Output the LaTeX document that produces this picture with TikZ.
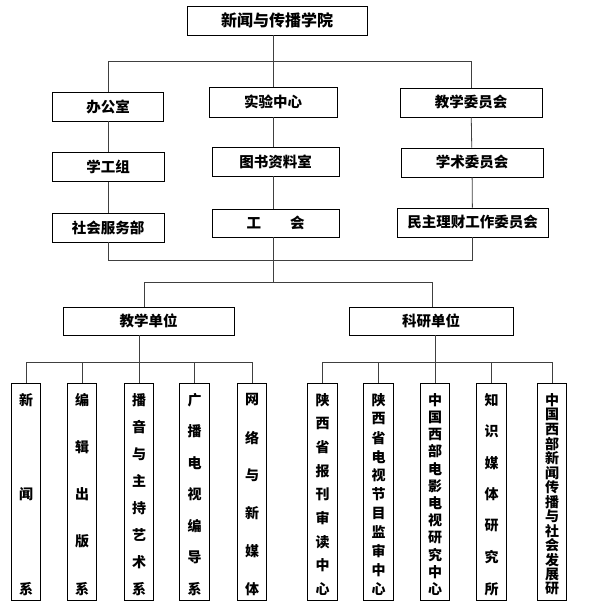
\documentclass[tikz,border=0pt]{standalone}
\usepackage{fontspec}
\usepackage{tikz}
\newfontfamily\cjk{Noto Sans CJK SC}

\tikzset{
  unit/.style={draw, line width=0.8pt, inner sep=0pt, minimum height=29pt,
    font={\cjk\bfseries\fontsize{14.5pt}{16pt}\selectfont}},
  colbox/.style={draw, line width=0.8pt, inner sep=0pt, minimum width=29.5pt, minimum height=217pt},
  coltext/.style={inner sep=0pt, font={\cjk\bfseries\fontsize{14pt}{14pt}\selectfont}},
  link/.style={draw=black!75, line width=0.8pt}
}

% box of one department, its characters spread down the box
\newcommand{\colunit}[4]{%
  \node[colbox] (#1) at (#2, 491.5) {};
  \foreach \ch [count=\k] in {#4}
    \node[coltext] (#1-\k) at (#2, {400+(\k-1)*189/(#3-1)}) {\ch};
}

\begin{document}
\begin{tikzpicture}[x=1pt, y=-1pt]
             \useasboundingbox (0,0) rectangle (606,610);

             \node[unit, minimum width=180pt, font={\cjk\bfseries\fontsize{16pt}{18pt}\selectfont}] (school) at (277, 20.5) {新闻与传播学院};

             \node[unit, minimum width=111pt] (office) at (108, 106.5) {办公室};
             \node[unit, minimum width=112pt] (staff) at (108, 167) {学工组};
             \node[unit, minimum width=112pt] (service) at (108, 227.5) {社会服务部};

             \node[unit, minimum width=128pt, minimum height=30pt] (lab) at (273, 102) {实验中心};
             \node[unit, minimum width=127pt] (library) at (275.5, 161.5) {图书资料室};
             \node[unit, minimum width=127pt, minimum height=28pt] (union) at (275.5, 223) {工\quad\quad 会};

             \node[unit, minimum width=142pt] (teachcom) at (471, 102.5) {教学委员会};
             \node[unit, minimum width=142pt] (academic) at (472, 162.5) {学术委员会};
             \node[unit, minimum width=151pt] (finance) at (472.5, 222.5) {民主理财工作委员会};

             \node[unit, minimum width=171pt, minimum height=28pt] (teaching) at (148.5, 321) {教学单位};
             \node[unit, minimum width=164pt, minimum height=28pt] (research) at (431, 321) {科研单位};

             \coordinate (topbus) at (0, 61);
             \coordinate (midbus) at (0, 260);
             \coordinate (unitbus) at (0, 282);
             \coordinate (colbus) at (0, 362);

             \colunit{journ}{26}{3}{新,闻,系}
             \colunit{edit}{82}{5}{编,辑,出,版,系}
             \colunit{announce}{139}{8}{播,音,与,主,持,艺,术,系}
             \colunit{broadcast}{194.5}{7}{广,播,电,视,编,导,系}
             \colunit{media}{252}{6}{网,络,与,新,媒,体}

             \colunit{press}{322.5}{9}{陕,西,省,报,刊,审,读,中,心}
             \colunit{tvmon}{378.5}{11}{陕,西,省,电,视,节,目,监,审,中,心}
             \colunit{film}{435}{12}{中,国,西,部,电,影,电,视,研,究,中,心}
             \colunit{knowledge}{491.5}{7}{知,识,媒,体,研,究,所}
             \colunit{west}{552}{14}{中,国,西,部,新,闻,传,播,与,社,会,发,展,研}

             \draw[link] (school.south -| lab.north) -- (lab.north);
             \draw[link] (office.north) |- (teachcom.north |- topbus) -- (teachcom.north);

             \draw[link] (office) -- (staff) -- (service);
             \draw[link] (lab.south) -- (lab.south |- library.north);
             \draw[link] (library.south -| lab.south) -- (union.north -| lab.south);
             \draw[link] (teachcom) -- (academic) -- (finance);

             \draw[link] (service.south) |- (finance.south |- midbus) -- (finance.south);
             \draw[link] (union.south -| lab.south) -- (lab.south |- unitbus);
             \draw[link] ([xshift=-4.5pt]teaching.north) |- ([xshift=1pt]research.north |- unitbus) -- ([xshift=1pt]research.north);

             \draw[link] (teaching.south -| announce.north) -- (announce.north);
             \draw[link] (journ.north) |- (media.north |- colbus) -- (media.north);
             \draw[link] (edit.north) -- (edit.north |- colbus);
             \draw[link] (broadcast.north) -- (broadcast.north |- colbus);

             \draw[link] (research.south -| film.north) -- (film.north);
             \draw[link] (press.north) |- (west.north |- colbus) -- (west.north);
             \draw[link] (tvmon.north) -- (tvmon.north |- colbus);
             \draw[link] (knowledge.north) -- (knowledge.north |- colbus);
\end{tikzpicture}
\end{document}
